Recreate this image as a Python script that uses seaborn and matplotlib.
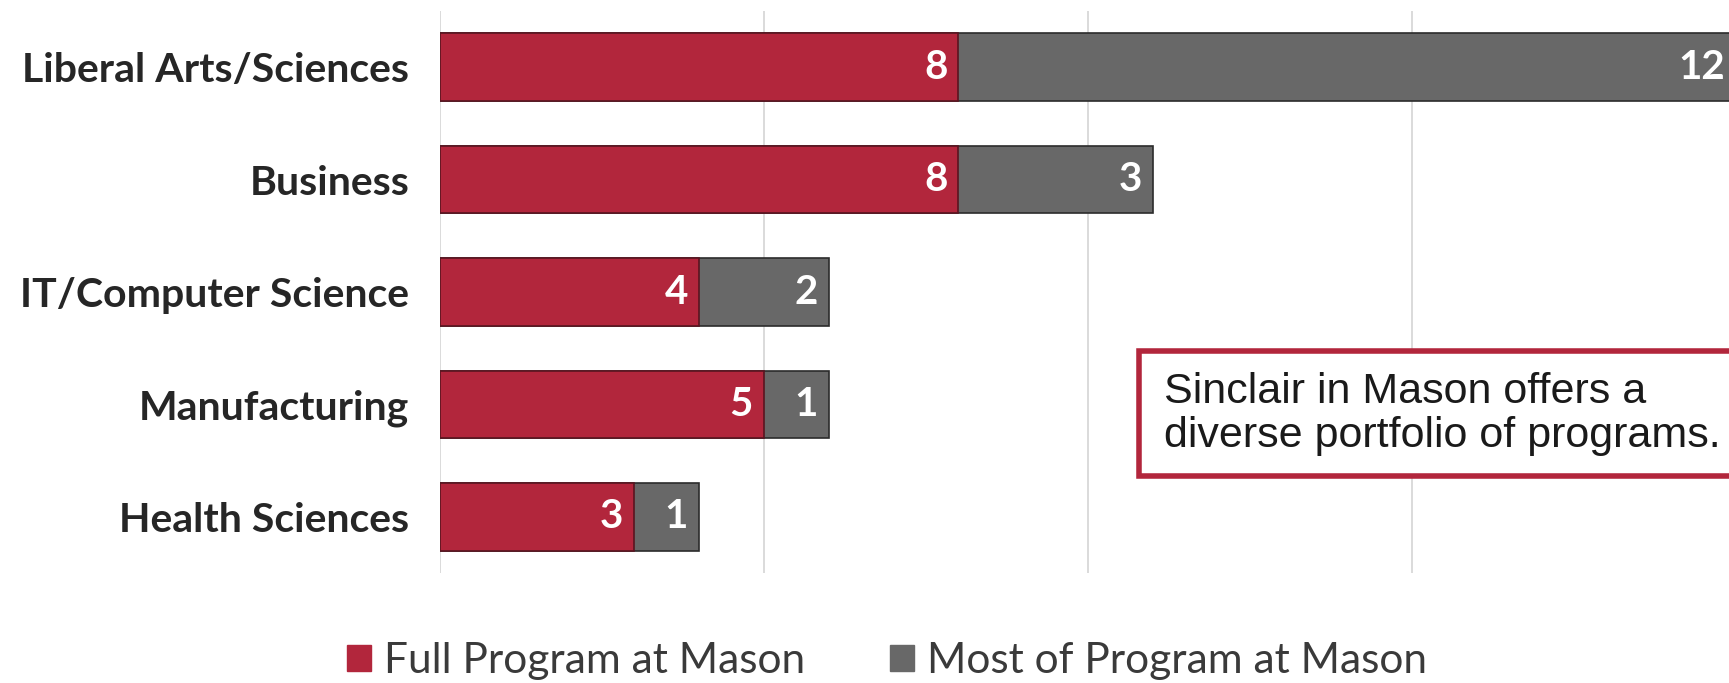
import matplotlib
matplotlib.use("Agg")
import matplotlib.pyplot as plt
import seaborn as sns
import pandas as pd
from matplotlib.patches import Patch, Rectangle

categories = ["Liberal Arts/Sciences", "Business", "IT/Computer Science", "Manufacturing", "Health Sciences"]
full_program = [8, 8, 4, 5, 3]
most_program = [12, 3, 2, 1, 1]
series_names = ["Full Program at Mason", "Most of Program at Mason"]
note = "Sinclair in Mason offers a\ndiverse portfolio of programs."

RED = "#B2263C"
GREY = "#686868"

df = pd.DataFrame({"category": categories, "full": full_program, "most": most_program})
df["total"] = df["full"] + df["most"]

sns.set_theme(style="white")
plt.rcParams["font.family"] = ["Lato", "DejaVu Sans"]

W, H = 1729, 683
fig = plt.figure(figsize=(W / 100, H / 100), dpi=100)
ax_left, ax_right = 440, 440 + 64.8 * 20
ax_top, ax_bottom = 11, 573
ax = fig.add_axes([ax_left / W, 1 - ax_bottom / H, (ax_right - ax_left) / W, (ax_bottom - ax_top) / H])

sns.barplot(data=df, x="total", y="category", color=GREY, saturation=1, width=0.6,
            edgecolor="#2b2b2b", linewidth=1.2, ax=ax, orient="h")
sns.barplot(data=df, x="full", y="category", color=RED, saturation=1, width=0.6,
            edgecolor="#5a1420", linewidth=1.2, ax=ax, orient="h")

ax.set_xlim(0, 20)
ax.set_ylim(len(categories) - 0.5, -0.5)
ax.set_xticks([0, 5, 10, 15, 20])
ax.set_xticklabels([])
ax.tick_params(axis="x", length=0)
ax.tick_params(axis="y", length=0, pad=22)
ax.grid(axis="x", color="#d4d4d4", linewidth=1.2)
ax.set_axisbelow(True)
for s in ax.spines.values():
    s.set_visible(False)
ax.set_xlabel("")
ax.set_ylabel("")
for lbl in ax.get_yticklabels():
    lbl.set_fontsize(29.5)
    lbl.set_fontweight("bold")
    lbl.set_color("#262626")

for i, (f, m) in enumerate(zip(full_program, most_program)):
    ax.annotate(str(f), xy=(f, i), xytext=(-8, 0), textcoords="offset points",
                ha="right", va="center", color="white", fontsize=29, fontweight="bold")
    ax.annotate(str(m), xy=(f + m, i), xytext=(-8, 0), textcoords="offset points",
                ha="right", va="center", color="white", fontsize=29, fontweight="bold")

# note box (extends past the right edge like the reference)
fig.add_artist(Rectangle((1139 / W, 1 - 476 / H), (1800 - 1139) / W, (476 - 351) / H,
                         transform=fig.transFigure, facecolor="white", edgecolor=RED,
                         linewidth=4, zorder=5))
fig.text(1164 / W, 1 - 414 / H, note, fontsize=31, family="Liberation Sans", color="#1a1a1a",
         va="center", ha="left", linespacing=1.1, zorder=6)

handles = [Patch(facecolor=RED, edgecolor=RED), Patch(facecolor=GREY, edgecolor=GREY)]
fig.legend(handles, series_names, loc="center", bbox_to_anchor=(0.513, 1 - 661 / H), ncol=2,
           frameon=False, fontsize=30.5, handlelength=0.58, handleheight=0.58, handletextpad=0.3,
           columnspacing=2.0, labelcolor="#3a3a3a")

fig.savefig("out.png", dpi=100)
